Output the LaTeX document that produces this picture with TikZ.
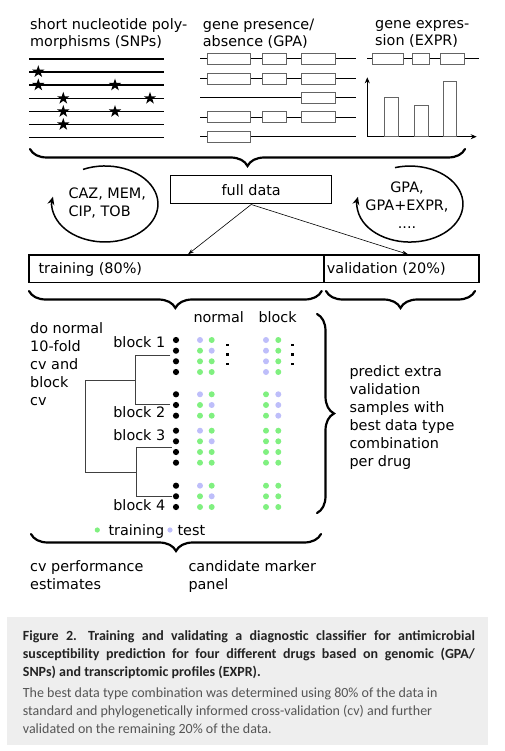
\documentclass[tikz,border=0pt]{standalone}
\usepackage{fontspec}
\setmainfont{DejaVu Sans}
\newfontfamily\capfont{Carlito}
\usetikzlibrary{arrows.meta,shapes.geometric,decorations.pathreplacing}
\definecolor{tgreen}{RGB}{128,240,128}
\definecolor{tlav}{RGB}{190,190,250}
\definecolor{capbg}{RGB}{238,238,238}
\definecolor{capbold}{RGB}{35,35,35}
\definecolor{captext}{RGB}{85,85,85}
\definecolor{boxgray}{RGB}{100,100,100}
\begin{document}
\begin{tikzpicture}[x=1pt,y=-1pt,
  lbl/.style={font=\fontsize{14.4}{18}\selectfont, inner sep=0, anchor=base west, align=left},
  gbox/.style={draw=boxgray, fill=white, line width=0.8},
  gline/.style={line width=1},
  snpstar/.style={star, star points=5, star point ratio=2.6, minimum size=13, fill=black, inner sep=0},
  brc/.style={decorate, decoration={brace, amplitude=17pt}, line width=2.2pt, line cap=round},
  loopar/.style={line width=1.5, -{Stealth[length=8pt,width=7pt]}},
  thinar/.style={line width=0.6, -{Stealth[length=6pt,width=4pt]}},
  dend/.style={line width=1, draw=black!75},
  bdot/.style={fill=black},
]
\useasboundingbox (0,0) rectangle (505,751);

% ---------- top labels (anchor = baseline of last line) ----------
\node[lbl, font=\fontsize{14.4}{17.5}\selectfont] (snplbl) at (30,46.8) {short nucleotide poly-\\morphisms (SNPs)};
\node[lbl, font=\fontsize{14.4}{17.5}\selectfont] (gpalbl) at (202.7,46.8) {gene presence/\\absence (GPA)};
\node[lbl, font=\fontsize{14.4}{17.5}\selectfont] (exprlbl) at (375,45.8) {gene expres-\\sion (EXPR)};

% ---------- SNP panel ----------
\foreach \y in {59,72,85,98.3,111.5,124.5,137.7}
  \draw[line width=1.2] (29,\y) -- (164,\y);
\node[snpstar] (s1) at (38.3,71.7) {};
\node[snpstar] (s2) at (38.3,85) {};
\node[snpstar] (s3) at (115,85) {};
\node[snpstar] (s4) at (63.3,98.3) {};
\node[snpstar] (s5) at (150,98.3) {};
\node[snpstar] (s6) at (63.3,111.5) {};
\node[snpstar] (s7) at (115,111.5) {};
\node[snpstar] (s8) at (63.3,124.5) {};

% ---------- GPA panel ----------
\foreach \y in {59,78.7,98,117.3,136.7}
  \draw[gline] (200,\y) -- (355.7,\y);
\foreach \y in {59,78.7,117.3}{
  \filldraw[gbox] (207.7,\y-5.5) rectangle (250.7,\y+5.5);
  \filldraw[gbox] (262.3,\y-5.5) rectangle (286.7,\y+5.5);
  \filldraw[gbox] (301,\y-5.5) rectangle (335,\y+5.5);
}
\filldraw[gbox] (301,92.5) rectangle (335,103.5);
\filldraw[gbox] (207.7,131.2) rectangle (250.7,142.2);

% ---------- EXPR panel ----------
\draw[gline] (367.3,59) -- (479.3,59);
\filldraw[gbox] (372.3,53.5) rectangle (403.3,64.5);
\filldraw[gbox] (412.3,53.5) rectangle (429.3,64.5);
\filldraw[gbox] (440.7,53.5) rectangle (464.3,64.5);
\draw[line width=1, -{Stealth[length=6pt,width=5pt]}] (367.3,136.7) -- (367.3,77.3);
\draw[line width=1, -{Stealth[length=6pt,width=5pt]}] (367.3,136.7) -- (476.7,136.7);
\draw[draw=boxgray, line width=0.8] (384.3,136.7) rectangle (398.3,97.7);
\draw[draw=boxgray, line width=0.8] (414,136.7) rectangle (428.3,105.7);
\draw[draw=boxgray, line width=0.8] (443.3,136.7) rectangle (456.7,81.7);

% ---------- top brace ----------
\coordinate (tb1) at (465,149);
\coordinate (tb2) at (30,149);
\draw[brc] (tb1) -- (tb2);

% ---------- full data + loops ----------
\node[draw, line width=1, minimum width=161, minimum height=28, inner sep=0,
      font=\fontsize{14.4}{18}\selectfont] (full) at (251.2,190) {full data};
\draw[loopar] (83,169.4) arc[start angle=-114.5, end angle=191, x radius=53, y radius=38];
\node[lbl] (drugs) at (68.3,217) {CAZ, MEM,\\CIP, TOB};
\draw[loopar] (395,167.6) arc[start angle=-106.4, end angle=191, x radius=53, y radius=38];
\node[lbl, align=center, anchor=base] (types) at (407,229) {GPA,\\GPA+EXPR,\\....};

% ---------- training / validation ----------
\node[draw, line width=1.5, minimum width=295, minimum height=27.4, inner sep=0, anchor=north west] (train) at (28.3,254.3) {};
\node[draw, line width=1.5, minimum width=155, minimum height=27.4, inner sep=0, anchor=north west] (valid) at (323.3,254.3) {};
\node[lbl] (trainlbl) at (38.3,273.3) {training (80\%)};
\node[lbl] (validlbl) at (326.7,273.3) {validation (20\%)};
\coordinate (ta) at (188,254.3);
\coordinate (va) at (408,254.3);
\draw[thinar] (full.south) -- (ta);
\draw[thinar] (full.south) -- (va);

% ---------- lower braces ----------
\coordinate (lb1) at (321.7,291);
\coordinate (lb2) at (29,291);
\draw[brc] (lb1) -- (lb2);
\coordinate (rb1) at (475,291);
\coordinate (rb2) at (326,291);
\draw[brc] (rb1) -- (rb2);

% ---------- cv part ----------
\node[lbl] (normlbl) at (193.3,322.7) {normal};
\node[lbl] (blocklbl) at (258.3,322.7) {block};
\node[lbl] (dotxt) at (30,405.3) {do normal\\10-fold\\cv and\\block\\cv};

\node[lbl, anchor=base east] (b1) at (165.5,347.7) {block 1};
\node[lbl, anchor=base east] (b2) at (165.5,417.7) {block 2};
\node[lbl, anchor=base east] (b3) at (165.5,440.7) {block 3};
\node[lbl, anchor=base east] (b4) at (165.5,510.7) {block 4};

% dendrogram
\draw[dend] (170,355) -- (135,355) -- (135,404.3) -- (170,404.3);
\draw[dend] (135,380.7) -- (85,380.7) -- (85,472.7) -- (136.7,472.7);
\draw[dend] (171.7,447.7) -- (136.7,447.7) -- (136.7,496.7) -- (171.7,496.7);

% black dots
\foreach \y in {340,350.7,361.3,372,394.3,405,415.7,430.7,441.3,452,462.7,485.7,496.3,507}
  \fill[bdot] (176,\y) circle (3.1);

% coloured dots: normal
\foreach \y/\a/\b in {340/tlav/tgreen,350.7/tgreen/tlav,361.3/tgreen/tgreen,372/tgreen/tgreen,
                      394.3/tlav/tgreen,405/tgreen/tlav,415.7/tgreen/tgreen,
                      430.7/tlav/tgreen,441.3/tgreen/tlav,452/tgreen/tgreen,462.7/tgreen/tgreen,
                      485.7/tlav/tgreen,496.3/tgreen/tlav,507/tgreen/tgreen}{
  \fill[\a] (200,\y) circle (3);
  \fill[\b] (211.7,\y) circle (3);
}
% coloured dots: block
\foreach \y/\a/\b in {340/tlav/tgreen,350.7/tlav/tgreen,361.3/tlav/tgreen,372/tlav/tgreen,
                      394.3/tgreen/tlav,405/tgreen/tlav,415.7/tgreen/tlav,
                      430.7/tgreen/tgreen,441.3/tgreen/tgreen,452/tgreen/tgreen,462.7/tgreen/tgreen,
                      485.7/tgreen/tgreen,496.3/tgreen/tgreen,507/tgreen/tgreen}{
  \fill[\a] (266,\y) circle (3);
  \fill[\b] (278.3,\y) circle (3);
}
% vertical ellipses
\foreach \x in {227.3,292.7}
  \foreach \y in {345,354.3,364}
    \fill (\x-1.3,\y-1.3) rectangle (\x+1.3,\y+1.3);

% right vertical brace
\coordinate (vb1) at (317,314);
\coordinate (vb2) at (317,513);
\draw[brc] (vb1) -- (vb2);
\node[lbl] (predict) at (349.3,466) {predict extra\\validation\\samples with\\best data type\\combination\\per drug};

% legend
\fill[tgreen] (97.3,530) circle (2.6);
\node[lbl] (legtrain) at (108.3,535) {training};
\fill[tlav] (170,530) circle (2.6);
\node[lbl] (legtest) at (177.3,535) {test};

% bottom brace
\coordinate (bb1) at (321,534);
\coordinate (bb2) at (31,534);
\draw[brc] (bb1) -- (bb2);
\node[lbl] (cvperf) at (30,589.7) {cv performance\\estimates};
\node[lbl] (cand) at (188.3,589.7) {candidate marker\\panel};

% ---------- caption ----------
\fill[capbg] (7,617) rectangle (488,745);
\node[inner sep=0, anchor=base west, text width=452, align=justify,
      font=\capfont\fontsize{14}{18}\selectfont] (cap) at (22.7,640.7)
{\noindent\textcolor{capbold}{\bfseries Figure 2.\hspace{0.8em}Training and validating a diagnostic classifier for antimicrobial\linebreak
susceptibility prediction for four different drugs based on genomic (GPA/\linebreak
SNPs) and transcriptomic profiles (EXPR).}\par\vspace{3pt}
\raggedright\noindent\textcolor{captext}{The best data type combination was determined using 80\% of the data in\\
standard and phylogenetically informed cross-validation (cv) and further\\
validated on the remaining 20\% of the data.}};
\end{tikzpicture}
\end{document}
